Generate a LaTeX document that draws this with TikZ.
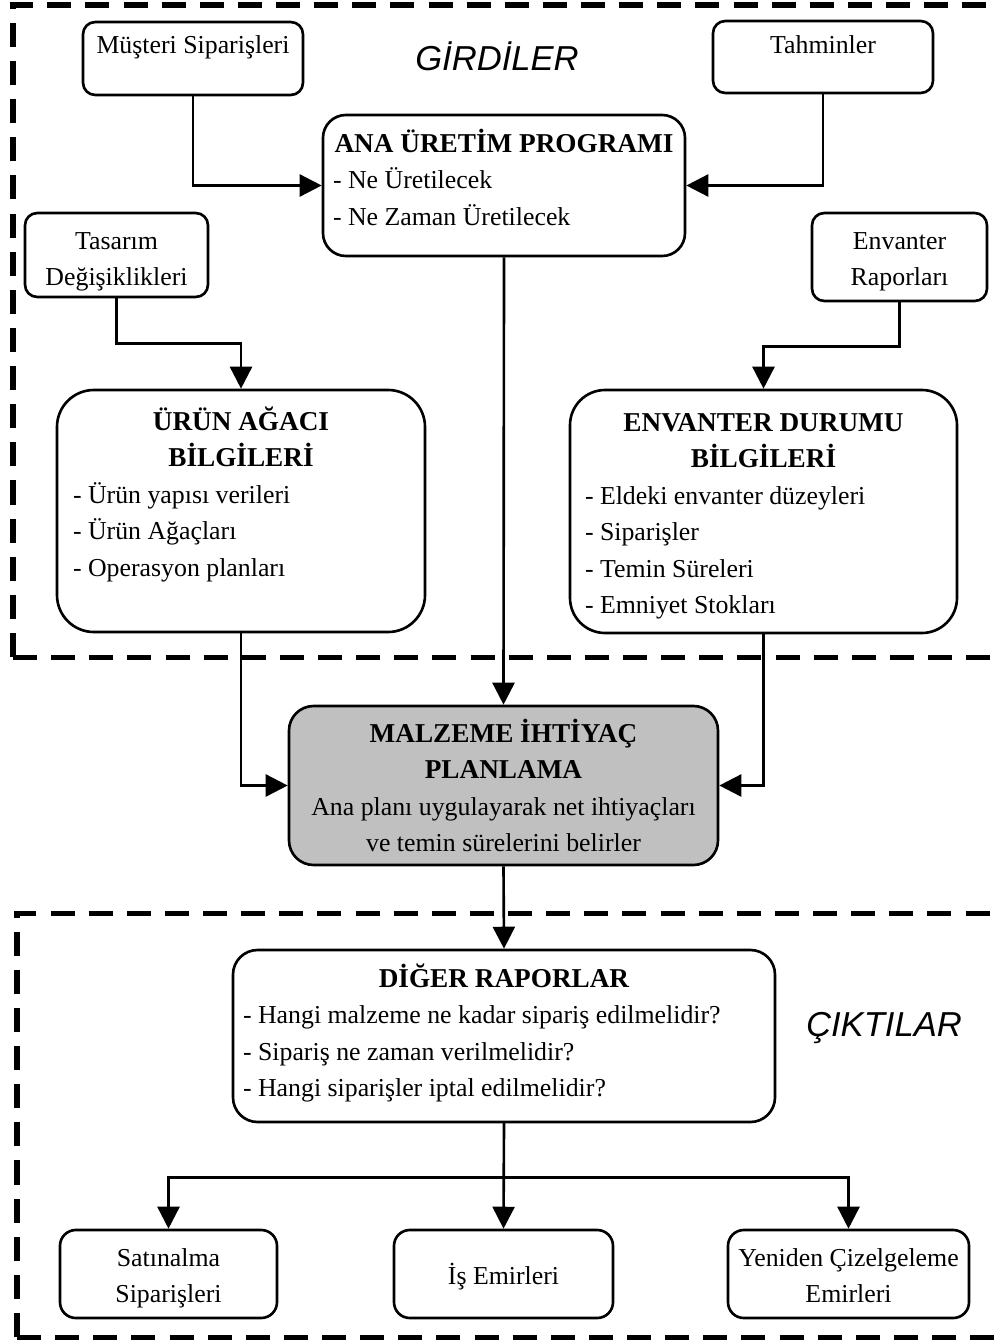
\documentclass[tikz,border=0pt]{standalone}
\usepackage{fontspec}
\setmainfont{Liberation Serif}
\newfontfamily\labelfont{Liberation Sans}
\usetikzlibrary{arrows.meta}

% one drawing unit = 0.02cm
\newdimen\px \px=0.02cm
\newcommand\rfont{\normalfont\fontsize{14.7pt}{20.8pt}\selectfont}
\newcommand\tfont{\normalfont\fontsize{15.5pt}{20.8pt}\selectfont\bfseries}
% #1 width, #2 height, #3 first baseline below the top, #4 text
\newcommand\boxbody[4]{\parbox[c][#2\px][t]{#1\px}{\rfont\rule{0pt}{#3\px}#4}}

\tikzset{
  box/.style={draw, line width=1.5pt, fill=white, inner sep=0pt, rounded corners=#1},
  box/.default=7pt,
  arr/.style={line width=1.5pt, -{Triangle[length=12.5pt,width=12.5pt]}},
  frame/.style={line width=2.85pt, dash pattern=on 13.7pt off 8pt},
  grlabel/.style={font=\labelfont\itshape\fontsize{19.7pt}{24pt}\selectfont, inner sep=0pt}
}

\begin{document}
\begin{tikzpicture}[x=0.02cm, y=-0.02cm]
\useasboundingbox (0,0) rectangle (997,1342);

% dashed frames: inputs and outputs
\draw[frame] (13,657) -- (13,5) -- (1012,5);
\draw[frame] (13,657) -- (1012,657);
\draw[frame] (17,1337) -- (17,913) -- (1012,913);
\draw[frame] (17,1337) -- (1012,1337);

\node[grlabel, anchor=base] (girdiler) at (497,70) {GİRDİLER};
\node[grlabel, anchor=base] (ciktilar) at (884,1036) {ÇIKTILAR};

% inputs
\node[box] (musteri) at (193,58.5)
  {\boxbody{220}{73}{31}{\centering Müşteri Siparişleri\par}};
\node[box] (tahmin) at (823,57)
  {\boxbody{220}{72}{33}{\centering Tahminler\par}};
\node[box=13pt] (ana) at (504,185.5)
  {\boxbody{362}{141}{37}{\centering\tfont ANA ÜRETİM PROGRAMI\par
   \raggedright\rfont\leftskip=10\px - Ne Üretilecek\\ - Ne Zaman Üretilecek\par}};
\node[box] (tasarim) at (116.5,255)
  {\boxbody{183}{84}{36}{\centering Tasarım\\ Değişiklikleri\par}};
\node[box] (envrap) at (899.5,257)
  {\boxbody{175}{88}{36}{\centering Envanter\\ Raporları\par}};
\node[box=21pt] (urun) at (241,511)
  {\boxbody{368}{242}{40}{\centering\tfont ÜRÜN AĞACI\\ BİLGİLERİ\par
   \raggedright\rfont\leftskip=16\px - Ürün yapısı verileri\\ - Ürün Ağaçları\\ - Operasyon planları\par}};
\node[box=20pt] (envdur) at (763.5,511.5)
  {\boxbody{387}{243}{41}{\centering\tfont ENVANTER DURUMU\\ BİLGİLERİ\par
   \raggedright\rfont\leftskip=15\px - Eldeki envanter düzeyleri\\ - Siparişler\\ - Temin Süreleri\\ - Emniyet Stokları\par}};

% planning
\node[box=14pt, fill={rgb,255:red,192;green,192;blue,192}] (malzeme) at (503.5,785.5)
  {\boxbody{429}{159}{36}{\centering\tfont MALZEME İHTİYAÇ\\ PLANLAMA\par
   \rfont Ana planı uygulayarak net ihtiyaçları\\ ve temin sürelerini belirler\par}};

% outputs
\node[box=14pt] (diger) at (504,1036)
  {\boxbody{542}{172}{37}{\centering\tfont DİĞER RAPORLAR\par
   \raggedright\rfont\leftskip=10\px - Hangi malzeme ne kadar sipariş edilmelidir?\\
   - Sipariş ne zaman verilmelidir?\\ - Hangi siparişler iptal edilmelidir?\par}};
\node[box=9pt] (satin) at (168.5,1274)
  {\boxbody{217}{88}{36}{\centering Satınalma\\ Siparişleri\par}};
\node[box=9pt] (isemir) at (503.5,1274)
  {\boxbody{219}{88}{54}{\centering İş Emirleri\par}};
\node[box=9pt] (yeniden) at (848.5,1274)
  {\boxbody{241}{88}{36}{\centering Yeniden Çizelgeleme\\ Emirleri\par}};

% connectors
\draw[arr] (musteri.south) |- (ana.west);
\draw[arr] (tahmin.south) |- (ana.east);
\draw[arr] (tasarim.south) -- ++(0,45) -| (urun.north);
\draw[arr] (envrap.south) -- ++(0,44) -| (envdur.north);
\draw[arr] (ana.south) -- (malzeme.north);
\draw[arr] (urun.south) |- (malzeme.west);
\draw[arr] (envdur.south) |- (malzeme.east);
\draw[arr] (malzeme.south) -- (diger.north);
\draw[arr] (diger.south) -- (isemir.north);
\draw[arr] (diger.south) -- ++(0,54) -| (satin.north);
\draw[arr] (diger.south) -- ++(0,54) -| (yeniden.north);
\end{tikzpicture}
\end{document}
